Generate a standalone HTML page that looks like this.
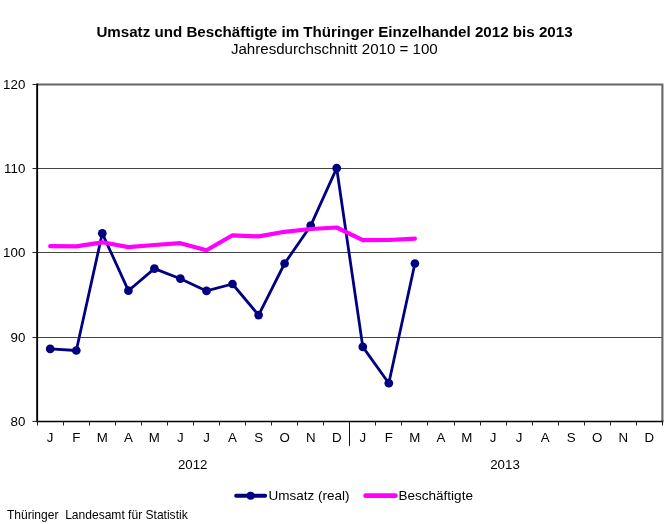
<!DOCTYPE html>
<html lang="de"><head><meta charset="utf-8"><title>Umsatz und Beschäftigte im Thüringer Einzelhandel</title>
<style>
html,body{margin:0;padding:0;background:#fff;}
svg{display:block;will-change:transform;font-family:"Liberation Sans",Arial,sans-serif;fill:#000;}
</style></head><body>
<svg width="668" height="524" viewBox="0 0 668 524">
<rect width="668" height="524" fill="#fff"/>
<text x="334.5" y="36.9" text-anchor="middle" font-size="15.15" font-weight="bold">Umsatz und Beschäftigte im Thüringer Einzelhandel 2012 bis 2013</text>
<text x="334.3" y="53.5" text-anchor="middle" font-size="15.1">Jahresdurchschnitt 2010 = 100</text>
<path d="M37.2 337.5H662.3M37.2 252.5H662.3M37.2 168.5H662.3" stroke="#444" stroke-width="1" fill="none"/>
<path d="M37.2 84.5H662.4V421.1" stroke="#666" stroke-width="2.1" fill="none"/>
<path d="M37.15 83.6V422" stroke="#000" stroke-width="1.9" fill="none"/><path d="M36.3 421.45H663.4" stroke="#000" stroke-width="1.35" fill="none"/>
<path d="M37.5 421.1V425.5M63.5 421.1V425.5M89.5 421.1V425.5M115.5 421.1V425.5M141.5 421.1V425.5M167.5 421.1V425.5M193.5 421.1V425.5M219.5 421.1V425.5M245.5 421.1V425.5M271.5 421.1V425.5M297.5 421.1V425.5M323.5 421.1V425.5M349.5 421.1V425.5M375.5 421.1V425.5M401.5 421.1V425.5M427.5 421.1V425.5M454.5 421.1V425.5M480.5 421.1V425.5M506.5 421.1V425.5M532.5 421.1V425.5M558.5 421.1V425.5M584.5 421.1V425.5M610.5 421.1V425.5M636.5 421.1V425.5M662.5 421.1V425.5M32.5 421.4H37.2M32.5 337.5H37.2M32.5 252.5H37.2M32.5 168.5H37.2M32.5 84.5H37.2" stroke="#222" stroke-width="1" fill="none"/>
<path d="M349.5 421.1V445.8" stroke="#111" stroke-width="1" fill="none"/>
<polyline points="50.2,348.9 76.3,350.5 102.3,233.3 128.4,290.7 154.4,268.6 180.4,278.7 206.5,290.9 232.5,284.0 258.6,315.1 284.6,263.5 310.7,225.7 336.7,168.2 362.8,346.9 388.8,383.2 414.9,263.5" fill="none" stroke="#000080" stroke-width="2.8" stroke-linejoin="round" stroke-linecap="round"/>
<g fill="#000080"><circle cx="50.2" cy="348.9" r="4.35"/><circle cx="76.3" cy="350.5" r="4.35"/><circle cx="102.3" cy="233.3" r="4.35"/><circle cx="128.4" cy="290.7" r="4.35"/><circle cx="154.4" cy="268.6" r="4.35"/><circle cx="180.4" cy="278.7" r="4.35"/><circle cx="206.5" cy="290.9" r="4.35"/><circle cx="232.5" cy="284.0" r="4.35"/><circle cx="258.6" cy="315.1" r="4.35"/><circle cx="284.6" cy="263.5" r="4.35"/><circle cx="310.7" cy="225.7" r="4.35"/><circle cx="336.7" cy="168.2" r="4.35"/><circle cx="362.8" cy="346.9" r="4.35"/><circle cx="388.8" cy="383.2" r="4.35"/><circle cx="414.9" cy="263.5" r="4.35"/></g>
<polyline points="50.2,246.2 76.3,246.3 102.3,242.3 128.4,247.1 154.4,245.0 180.4,243.2 206.5,250.3 232.5,235.3 258.6,236.4 284.6,231.8 310.7,229.0 336.7,227.5 362.8,240.2 388.8,240.0 414.9,238.7" fill="none" stroke="#ff00ff" stroke-width="4.2" stroke-linejoin="round" stroke-linecap="round"/>
<g font-size="13.3" text-anchor="middle"><text x="50.2" y="442">J</text><text x="76.3" y="442">F</text><text x="102.3" y="442">M</text><text x="128.4" y="442">A</text><text x="154.4" y="442">M</text><text x="180.4" y="442">J</text><text x="206.5" y="442">J</text><text x="232.5" y="442">A</text><text x="258.6" y="442">S</text><text x="284.6" y="442">O</text><text x="310.7" y="442">N</text><text x="336.7" y="442">D</text><text x="362.8" y="442">J</text><text x="388.8" y="442">F</text><text x="414.9" y="442">M</text><text x="440.9" y="442">A</text><text x="466.9" y="442">M</text><text x="493.0" y="442">J</text><text x="519.0" y="442">J</text><text x="545.1" y="442">A</text><text x="571.1" y="442">S</text><text x="597.2" y="442">O</text><text x="623.2" y="442">N</text><text x="649.3" y="442">D</text>
<text x="192.7" y="469">2012</text><text x="505" y="469">2013</text></g>
<g font-size="13.3" text-anchor="end"><text x="25.3" y="425.6">80</text><text x="25.3" y="341.7">90</text><text x="25.3" y="256.7">100</text><text x="25.3" y="172.7">110</text><text x="25.3" y="88.7">120</text></g>
<path d="M236.1 495.75H265.2" stroke="#000080" stroke-width="3.8" stroke-linecap="round" fill="none"/>
<circle cx="250.6" cy="495.8" r="4.05" fill="#000080"/>
<text x="268.6" y="500.2" font-size="13.5">Umsatz (real)</text>
<path d="M365.6 495.7H395.4" stroke="#ff00ff" stroke-width="4.7" stroke-linecap="round" fill="none"/>
<text x="398.6" y="500.2" font-size="13.5">Beschäftigte</text>
<text x="6.9" y="518.8" font-size="12.05" xml:space="preserve">Thüringer  Landesamt für Statistik</text>
</svg>
</body></html>
